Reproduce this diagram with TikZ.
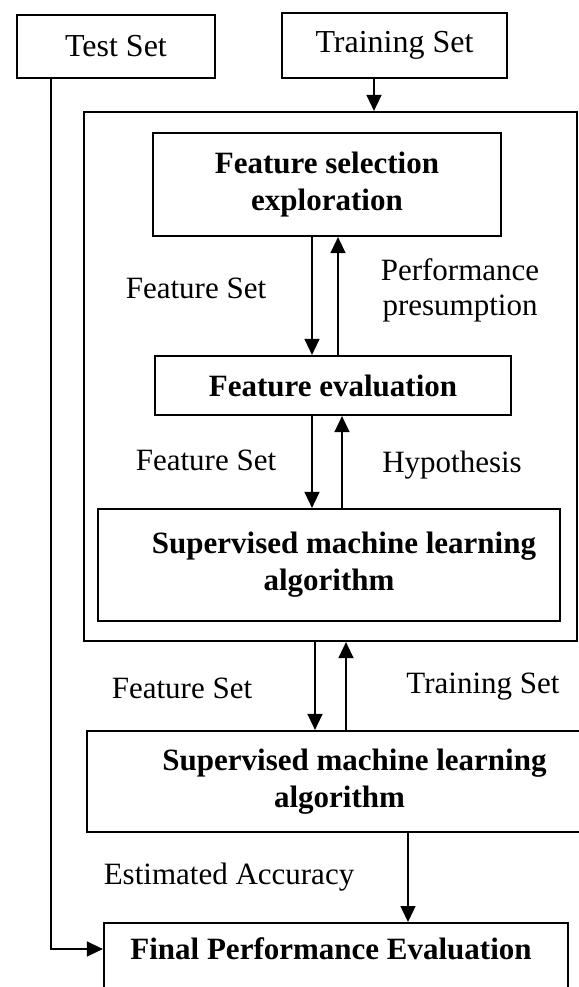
\documentclass[tikz,border=0pt]{standalone}
\usepackage{fontspec}
\setmainfont{Liberation Serif}
\usetikzlibrary{arrows.meta}

\begin{document}
\begin{tikzpicture}[x=0.5pt,y=-0.5pt,
    box/.style={draw,line width=1.1pt,align=center,inner sep=0pt,font=\fontsize{15.5}{18.5}\selectfont},
    bbox/.style={box,font=\fontsize{15.5}{18.5}\selectfont\bfseries},
    lbl/.style={align=center,inner sep=0pt,font=\fontsize{15.5}{17.5}\selectfont},
    arr/.style={line width=0.7pt,-{Triangle[length=8pt,width=7.5pt]}}]
    % page frame, the lower boxes run past it
    \clip (0,0) rectangle (579,987);

    \node[box,minimum width=99pt,minimum height=31.5pt,font=\fontsize{16}{18.5}\selectfont] (test) at (116,46.5) {Test Set};
    \node[box,minimum width=112.5pt,minimum height=32.5pt,font=\fontsize{16}{18.5}\selectfont] (train) at (394.5,45.5) {Training Set};
    \node[box,minimum width=246.5pt,minimum height=264.5pt] (outer) at (330.5,376.5) {};

    \node[bbox,minimum width=174pt,minimum height=51.5pt] (fse) at (327,184.5) {Feature selection\\exploration};
    \node[bbox,minimum width=178pt,minimum height=29.5pt] (fe) at (333,385.5) {Feature evaluation};
    \node[bbox,minimum width=231pt,minimum height=56pt] (smla) at (329,565) {\hspace*{15pt}Supervised machine learning\\algorithm};
    \node[bbox,minimum width=252.5pt,minimum height=50.5pt] (smlb) at (339.5,781.5) {\hspace*{15pt}Supervised machine learning\\algorithm};
    \node[box,minimum width=232pt,minimum height=45pt,anchor=north] (final) at (336,922) {};
    \node[lbl,font=\fontsize{15.5}{18.5}\selectfont\bfseries] (finaltxt) at (331,949) {Final Performance Evaluation};

    \node[lbl] (fs1) at (196,288) {Feature Set};
    \node[lbl] (perf) at (460,290) {Performance\\presumption};
    \node[lbl] (fs2) at (206,460) {Feature Set};
    \node[lbl] (hyp) at (452,465) {Hypothesis};
    \node[lbl] (fs3) at (182,688) {Feature Set};
    \node[lbl] (ts) at (483,687) {Training Set};
    \node[lbl] (acc) at (229,877) {Estimated Accuracy};

    \draw[arr] ([xshift=-10.25pt]train.south) -- ([xshift=-10.25pt]train.south |- outer.north);
    \foreach \a/\b/\d/\u in {fse/fe/-7.5pt/5.5pt, fe/smla/-10.5pt/4.5pt, outer/smlb/-7.75pt/7.75pt} {
        \draw[arr] ([xshift=\d]\a.south) -- ([xshift=\d]\a.south |- \b.north);
        \draw[arr] ([xshift=\u]\a.south |- \b.north) -- ([xshift=\u]\a.south);
    }
    \draw[arr] ([xshift=34.25pt]smlb.south) -- ([xshift=34.25pt]smlb.south |- final.north);
    \draw[arr] ([xshift=17.5pt]test.south west) |- (final.west |- finaltxt);
\end{tikzpicture}
\end{document}
